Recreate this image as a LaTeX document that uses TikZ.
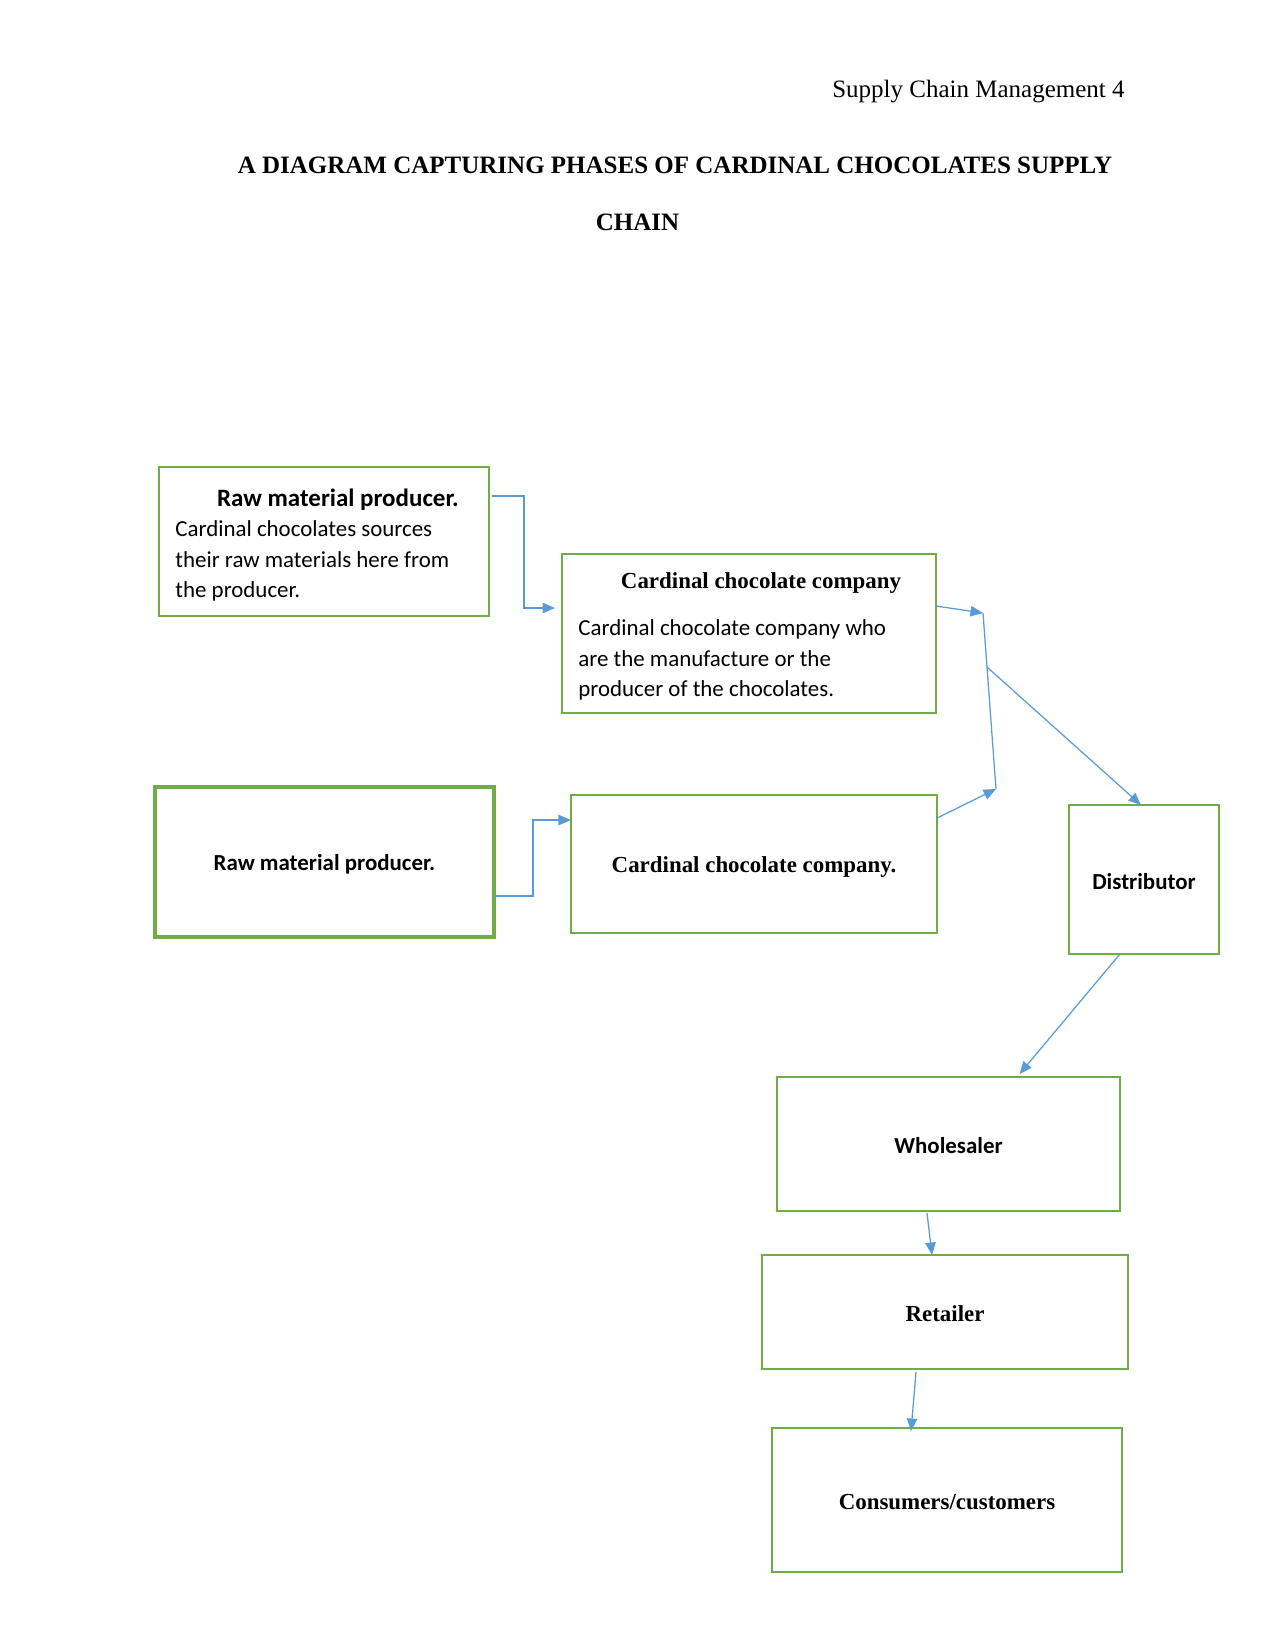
\documentclass[tikz,border=0pt]{standalone}
\usepackage{fontspec}
\setmainfont{Liberation Serif}
\newfontfamily\calibri{Carlito}
\usetikzlibrary{arrows.meta,calc}
\definecolor{boxgreen}{RGB}{112,173,71}
\definecolor{arrblue}{RGB}{91,155,213}
\begin{document}
\begin{tikzpicture}[x=0.48pt,y=-0.48pt,
  box/.style={draw=boxgreen,line width=1pt,rectangle,inner sep=0pt,outer sep=0pt},
  thickbox/.style={box,line width=1.6pt},
  conn/.style={draw=arrblue,line width=0.6pt,-{Triangle[length=6pt,width=5pt]}},
  plainconn/.style={draw=arrblue,line width=0.6pt},
  sansb/.style={font=\calibri\bfseries\fontsize{11}{13.4}\selectfont},
  sansbig/.style={font=\calibri\bfseries\fontsize{12}{14.6}\selectfont,inner sep=0pt},
  sansbody/.style={font=\calibri\fontsize{11}{14.6}\selectfont,inner sep=0pt,align=left},
  serifb/.style={font=\bfseries\fontsize{11}{13.4}\selectfont},
  txt/.style={inner sep=0pt}]
\useasboundingbox (0,0) rectangle (1275,1650);

% header and title
\node[txt,anchor=east,font=\fontsize{12}{14}\selectfont] (hdr) at (1125,92) {Supply Chain Management 4};
\node[txt,font=\bfseries\fontsize{12}{14}\selectfont] (ttl1) at (675,165) {A DIAGRAM CAPTURING PHASES OF CARDINAL CHOCOLATES SUPPLY};
\node[txt,font=\bfseries\fontsize{12}{14}\selectfont] (ttl2) at (637.5,222) {CHAIN};

% boxes
\node[box,minimum width=158.4pt,minimum height=71.5pt] (b1) at (324,541.5) {};
\node[sansbig] (b1t) at (338,500) {Raw material producer.};
\node[sansbody,anchor=west] (b1b) at (175,561) {Cardinal chocolates sources\\their raw materials here from\\the producer.};

\node[box,minimum width=179.5pt,minimum height=76.3pt] (b2) at (749,633.5) {};
\node[serifb,inner sep=0pt] (b2t) at (761,583) {Cardinal chocolate company};
\node[sansbody,anchor=west] (b2b) at (578,660) {Cardinal chocolate company who\\are the manufacture or the\\producer of the chocolates.};

\node[thickbox,minimum width=162.7pt,minimum height=72pt] (b3) at (324.5,862) {};
\node[sansb,inner sep=0pt] (b3t) at (324.5,864) {Raw material producer.};
\node[box,minimum width=175.7pt,minimum height=66.2pt] (b4) at (754,864) {};
\node[serifb,inner sep=0pt] (b4t) at (754,867) {Cardinal chocolate company.};
\node[box,minimum width=72pt,minimum height=71.5pt] (dist) at (1144,879.5) {};
\node[sansb,inner sep=0pt] (distt) at (1144,882) {Distributor};
\node[box,minimum width=164.6pt,minimum height=64.3pt] (whole) at (948.5,1144) {};
\node[sansb,inner sep=0pt] (wholet) at (948.5,1146) {Wholesaler};
\node[box,minimum width=175.7pt,minimum height=54.7pt] (ret) at (945,1312) {};
\node[serifb,inner sep=0pt] (rett) at (945,1314) {Retailer};
\node[box,minimum width=168pt,minimum height=69.1pt] (cons) at (947,1500) {};
\node[serifb,inner sep=0pt] (const) at (947,1502) {Consumers/customers};

% junction points
\coordinate (j1) at (983,613);
\coordinate (j2) at (996,789);

% connectors
\draw[conn] ([shift={(3,29)}]b1.north east) -- ++(32,0) |- ([shift={(-7,54)}]b2.north west);
\draw[conn] ([shift={(0,109)}]b3.north east) -- ++(39,0) |- ([shift={(0,25)}]b4.north west);
\draw[conn] ([shift={(0,52)}]b2.north east) -- (j1);
\draw[plainconn] (j1) -- (j2);
\draw[conn] ([shift={(0,23)}]b4.north east) -- (j2);
\draw[conn] ($(j1)!0.307!(j2)$) -- ([shift={(-3,0)}]dist.north);
\draw[conn] ([shift={(-24,0)}]dist.south) -- ([shift={(71,-3)}]whole.north);
\draw[conn] ([shift={(-21.5,2)}]whole.south) -- ([shift={(-13,0)}]ret.north);
\draw[conn] ([shift={(-29,3)}]ret.south) -- ([shift={(-36,3)}]cons.north);
\end{tikzpicture}
\end{document}
